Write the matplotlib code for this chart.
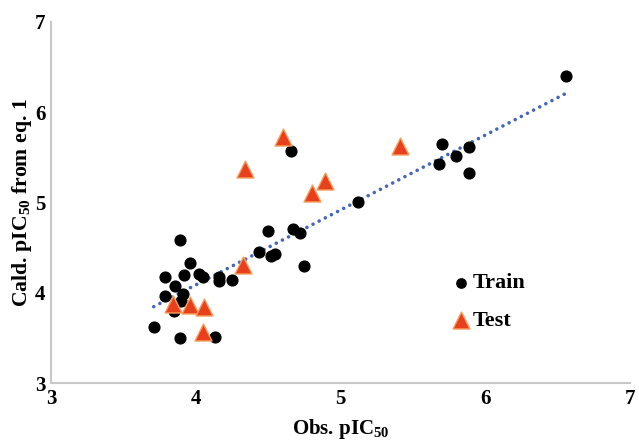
import numpy as np
import matplotlib
matplotlib.use("Agg")
from matplotlib import pyplot as plt

# observed vs calculated pIC50, training set
train_obs = [6.56, 5.70, 5.68, 5.80, 5.89, 5.89, 5.12, 4.66, 4.50, 4.67,
             4.72, 4.52, 4.55, 4.75, 4.44, 3.89, 3.96, 3.79, 3.92, 4.02,
             4.05, 4.16, 4.16, 4.25, 3.86, 3.79, 3.91, 3.90, 3.85, 3.71,
             3.89, 4.13]
train_calc = [6.40, 5.65, 5.43, 5.52, 5.62, 5.33, 5.00, 5.57, 4.68, 4.71,
              4.66, 4.41, 4.43, 4.30, 4.45, 4.58, 4.33, 4.17, 4.20, 4.21,
              4.18, 4.17, 4.13, 4.14, 4.07, 3.96, 3.99, 3.91, 3.80, 3.62,
              3.50, 3.51]

# test set
test_obs = [3.84, 3.96, 4.06, 4.05, 4.33, 4.60, 4.34, 4.89, 4.80, 5.41]
test_calc = [3.88, 3.86, 3.84, 3.57, 4.31, 5.73, 5.37, 5.24, 5.11, 5.63]

ticks = [3, 4, 5, 6, 7]

plt.rcParams['font.family'] = ['Liberation Serif', 'DejaVu Serif']
plt.rcParams['font.weight'] = 'bold'
plt.rcParams['mathtext.fontset'] = 'custom'
plt.rcParams['mathtext.rm'] = 'Liberation Serif:bold'
plt.rcParams['mathtext.it'] = 'Liberation Serif:bold'

fig = plt.figure(figsize=(6.39, 4.43), dpi=100)
ax = fig.add_axes([0.0798, 0.1354, 0.906, 0.815])

# linear trend of the training set
k, b = np.polyfit(train_obs, train_calc, 1)
xs = np.array([min(train_obs), max(train_obs)])
ax.plot(xs, k * xs + b, linestyle=(0, (0.01, 1.9)), color='#4466BB',
        linewidth=2.6, dash_capstyle='round', zorder=1)

ax.scatter(train_obs, train_calc, s=60, color='black', label='Train', zorder=3)
ax.scatter(test_obs, test_calc, s=150, marker='^', color='#E8401C',
           edgecolor='#F4A060', linewidth=1, label='Test', zorder=3)

ax.set_xlim(3, 7)
ax.set_ylim(3, 7)
ax.set_xticks(ticks)
ax.set_yticks(ticks)
ax.tick_params(length=0, labelsize=15, pad=4)
for lab in ax.get_xticklabels() + ax.get_yticklabels():
    lab.set_fontweight('bold')

for side in ['top', 'right']:
    ax.spines[side].set_visible(False)
for side in ['left', 'bottom']:
    ax.spines[side].set_color('#C8C8C8')
    ax.spines[side].set_linewidth(1.5)

ax.set_xlabel('Obs. pIC$_{50}$', fontsize=15, fontweight='bold', labelpad=6)
ax.set_ylabel('Cald. pIC$_{50}$ from eq. 1', fontsize=15.7, fontweight='bold',
              labelpad=1)

leg = ax.legend(loc='center left', bbox_to_anchor=(0.697, 0.225), frameon=False,
                handlelength=0.6, handletextpad=0.2, labelspacing=0.75,
                borderpad=0, borderaxespad=0,
                prop={'weight': 'bold', 'size': 16})
leg.legend_handles[0].set_sizes([45])
leg.legend_handles[1].set_sizes([150])

fig.savefig('out.png', dpi=100)
